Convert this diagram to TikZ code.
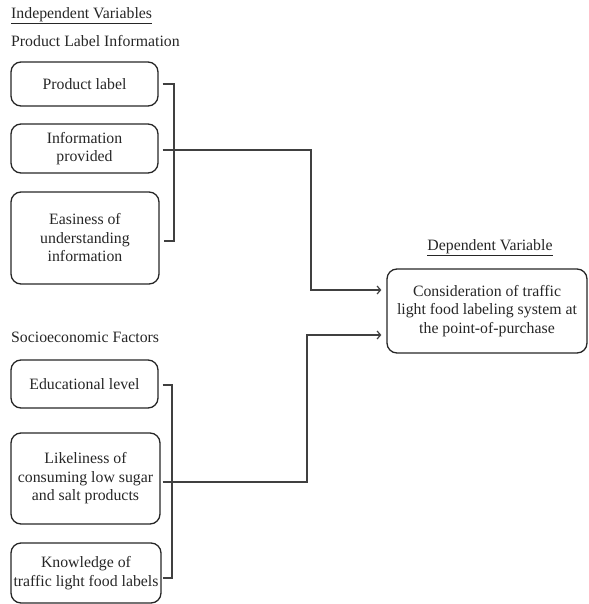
\documentclass[tikz,border=0pt]{standalone}
\usepackage{fontspec}
\setmainfont{Liberation Serif}
\usetikzlibrary{arrows.meta}
\begin{document}
\begin{tikzpicture}[x=1pt,y=-1pt,
  every node/.style={font=\fontsize{15.8}{18.5}\selectfont, text=black!85},
  vbox/.style={draw=black!85, line width=1.3pt, rounded corners=10pt, align=center, inner sep=0pt},
  conn/.style={draw=black!75, line width=1.2pt},
  arr/.style={conn, -{Straight Barb[length=3.5pt,width=8pt]}},
  hdr/.style={anchor=west, inner sep=0pt}
]
\useasboundingbox (0,0) rectangle (588,604);

\node[hdr] (iv) at (11,16) {\underline{Independent Variables}};
\node[hdr] (pli) at (11,41) {Product Label Information};
\node[hdr] (sef) at (11,337) {Socioeconomic Factors};
\node[inner sep=0pt] (dv) at (490,248) {\underline{Dependent Variable}};

\node[vbox, minimum width=147pt, minimum height=44pt] (pl) at (84.5,84) {Product label};
\node[vbox, minimum width=147pt, minimum height=49pt] (ip) at (84.5,148.5) {Information\\provided};
\node[vbox, minimum width=148pt, minimum height=92pt] (ez) at (85,238) {Easiness of\\understanding\\information};

\node[vbox, minimum width=147pt, minimum height=48pt] (el) at (84.5,384) {Educational level};
\node[vbox, minimum width=149pt, minimum height=91pt] (lc) at (85.5,478.5) {Likeliness of\\consuming low sugar\\and salt products};
\node[vbox, minimum width=150pt, minimum height=60pt] (kn) at (86,573) {Knowledge of\\traffic light food labels};

\node[vbox, minimum width=200pt, minimum height=84pt] (dep) at (487,311) {Consideration of traffic\\light food labeling system at\\the point-of-purchase};

% upper bracket
\coordinate (ub1) at (174,84);
\coordinate (ub2) at (174,241);
\draw[conn] ([xshift=4pt]pl.east) -- (ub1) -- (ub2) -- ([xshift=4pt,yshift=-3pt]ez.east);
\coordinate (uv) at (311,150);
\draw[arr] ([xshift=4pt,yshift=-1.5pt]ip.east) -- (uv) |- ([xshift=-5pt,yshift=21pt]dep.west);

% lower bracket
\coordinate (lb1) at (172,385);
\coordinate (lb2) at (172,578);
\draw[conn] ([xshift=4pt,yshift=-1pt]el.east) -- (lb1) -- (lb2) -- ([xshift=1pt,yshift=-5pt]kn.east);
\coordinate (lv) at (307,482);
\draw[arr] ([xshift=2pt,yshift=-3.5pt]lc.east) -- (lv) |- ([xshift=-5pt,yshift=-24pt]dep.west);
\end{tikzpicture}
\end{document}
